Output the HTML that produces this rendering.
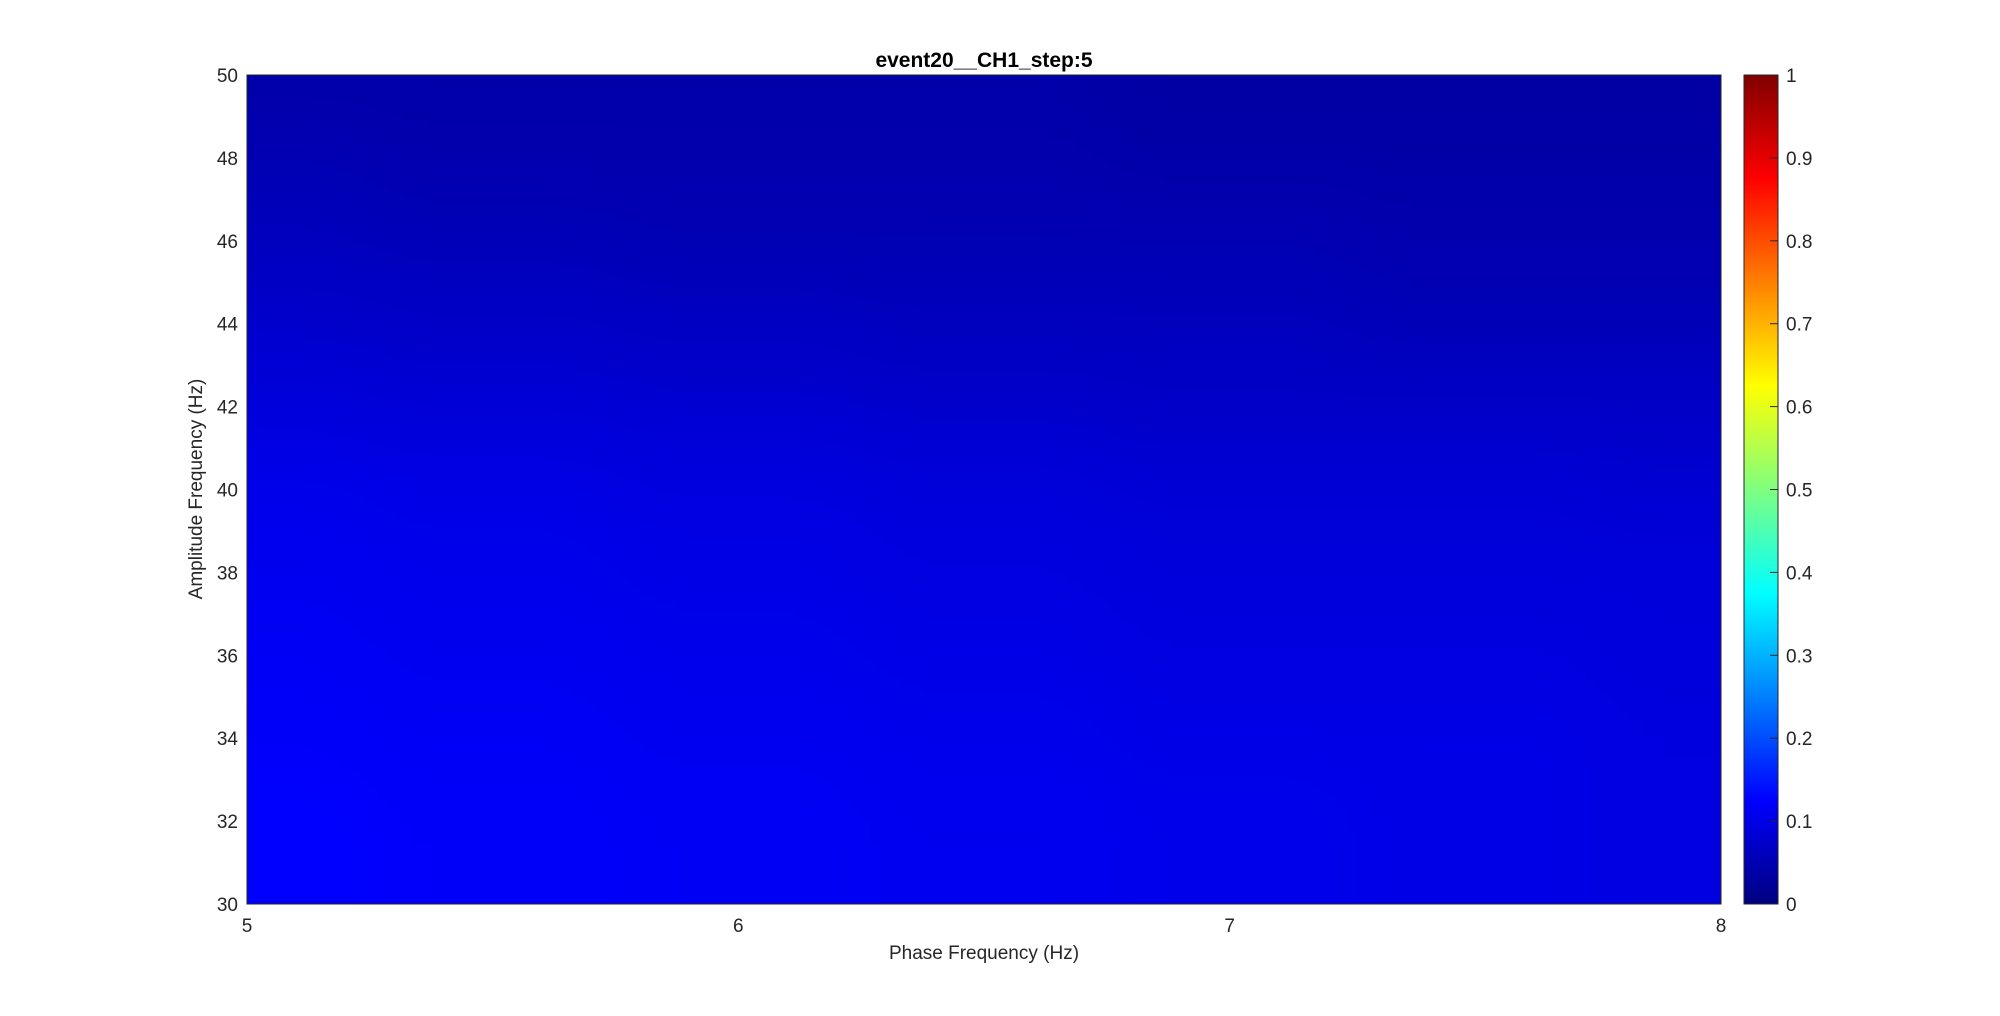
<!DOCTYPE html>
<html><head><meta charset="utf-8"><style>
html,body{margin:0;padding:0;background:#fff;}
svg{display:block;font-family:"Liberation Sans",Arial,sans-serif;}
</style></head><body>
<svg id="chart" width="2000" height="1016" viewBox="0 0 2000 1016" xmlns="http://www.w3.org/2000/svg">
<defs>
<linearGradient id="jet" x1="0" y1="1" x2="0" y2="0">
<stop offset="0" stop-color="#000080"/><stop offset="0.125" stop-color="#0000ff"/>
<stop offset="0.375" stop-color="#00ffff"/><stop offset="0.625" stop-color="#ffff00"/>
<stop offset="0.875" stop-color="#ff0000"/><stop offset="1" stop-color="#800000"/>
</linearGradient>
<clipPath id="clip"><rect x="247" y="75" width="1474" height="829"/></clipPath>
<filter id="blur" x="-5%" y="-5%" width="110%" height="110%"><feGaussianBlur stdDeviation="40"/></filter>
</defs>
<g id="cells" clip-path="url(#clip)"></g>
<rect x="247" y="75" width="1474" height="829" fill="none" stroke="#262626" stroke-width="1"/>
<text x="984" y="67" text-anchor="middle" font-size="21" font-weight="bold" fill="#000">event20__CH1_step:5</text>
<g id="yticks"></g><g id="xticks"></g>
<text x="984" y="959" text-anchor="middle" font-size="19" fill="#262626">Phase Frequency (Hz)</text>
<text transform="translate(202,489) rotate(-90)" text-anchor="middle" font-size="19" fill="#262626">Amplitude Frequency (Hz)</text>
<rect x="1744" y="75" width="34" height="829" fill="url(#jet)" stroke="#262626" stroke-width="1"/>
<g id="cticks"></g>
</svg>
<script>
const phaseFreqs=[5,5.5,6,6.5,7,7.5,8];
const ampFreqs=[50,48,46,44,42,40,38,36,34,32,30];
const pacValues=[
[.040,.040,.040,.040,.035,.035,.035],
[.050,.045,.045,.045,.040,.040,.040],
[.060,.055,.050,.050,.050,.045,.045],
[.075,.070,.065,.060,.060,.055,.055],
[.090,.085,.080,.075,.070,.070,.070],
[.105,.100,.095,.090,.085,.085,.080],
[.110,.105,.100,.095,.090,.090,.090],
[.115,.110,.105,.100,.095,.095,.090],
[.120,.115,.110,.105,.100,.100,.095],
[.125,.120,.115,.110,.105,.100,.095],
[.125,.120,.115,.110,.105,.100,.095]];
const xTicks=[5,6,7,8];
const yTicks=[30,32,34,36,38,40,42,44,46,48,50];
const cTicks=[0,0.1,0.2,0.3,0.4,0.5,0.6,0.7,0.8,0.9,1];
const NS="http://www.w3.org/2000/svg";
const X0=247,X1=1721,Y0=75,Y1=904;
const xs=v=>X0+(v-5)/(8-5)*(X1-X0);
const ys=v=>Y1-(v-30)/(50-30)*(Y1-Y0);
const cs=v=>Y1-v*(Y1-Y0);
function jet(v){
  const f=t=>Math.max(0,Math.min(1,t));
  const r=f(Math.min(4*v-1.5,-4*v+4.5)),g=f(Math.min(4*v-0.5,-4*v+3.5)),b=f(Math.min(4*v+0.5,-4*v+2.5));
  return `rgb(${Math.round(r*255)},${Math.round(g*255)},${Math.round(b*255)})`;
}
function mk(tag,attrs,parent){const e=document.createElementNS(NS,tag);for(const k in attrs)e.setAttribute(k,attrs[k]);parent.appendChild(e);return e;}
const cells=document.getElementById('cells');
const dx=(xs(phaseFreqs[1])-xs(phaseFreqs[0])),dy=Math.abs(ys(ampFreqs[1])-ys(ampFreqs[0]));
const inner=mk('g',{filter:'url(#blur)'},cells);
ampFreqs.forEach((a,i)=>phaseFreqs.forEach((p,j)=>{
  const ex=(j==0||j==phaseFreqs.length-1)?80:0, ey=(i==0||i==ampFreqs.length-1)?80:0;
  const r=mk('rect',{x:xs(p)-dx/2-(j==0?ex:0),y:ys(a)-dy/2-(i==0?ey:0),width:dx+ex+0.5,height:dy+ey+0.5,fill:jet(pacValues[i][j])},inner);
  
  
}));
const yt=document.getElementById('yticks');
yTicks.forEach(v=>{const t=mk('text',{x:X0-9,y:ys(v)+7,'text-anchor':'end','font-size':19,fill:'#262626'},yt);t.textContent=v;

});
const xt=document.getElementById('xticks');
xTicks.forEach(v=>{const t=mk('text',{x:xs(v),y:932,'text-anchor':'middle','font-size':19,fill:'#262626'},xt);t.textContent=v;

});
const ct=document.getElementById('cticks');
cTicks.forEach(v=>{mk('line',{x1:1770,x2:1778,y1:cs(v),y2:cs(v),stroke:'#262626'},ct);
const t=mk('text',{x:1786,y:cs(v)+7,'font-size':19,fill:'#262626'},ct);t.textContent=v;

});
</script>
</body></html>
